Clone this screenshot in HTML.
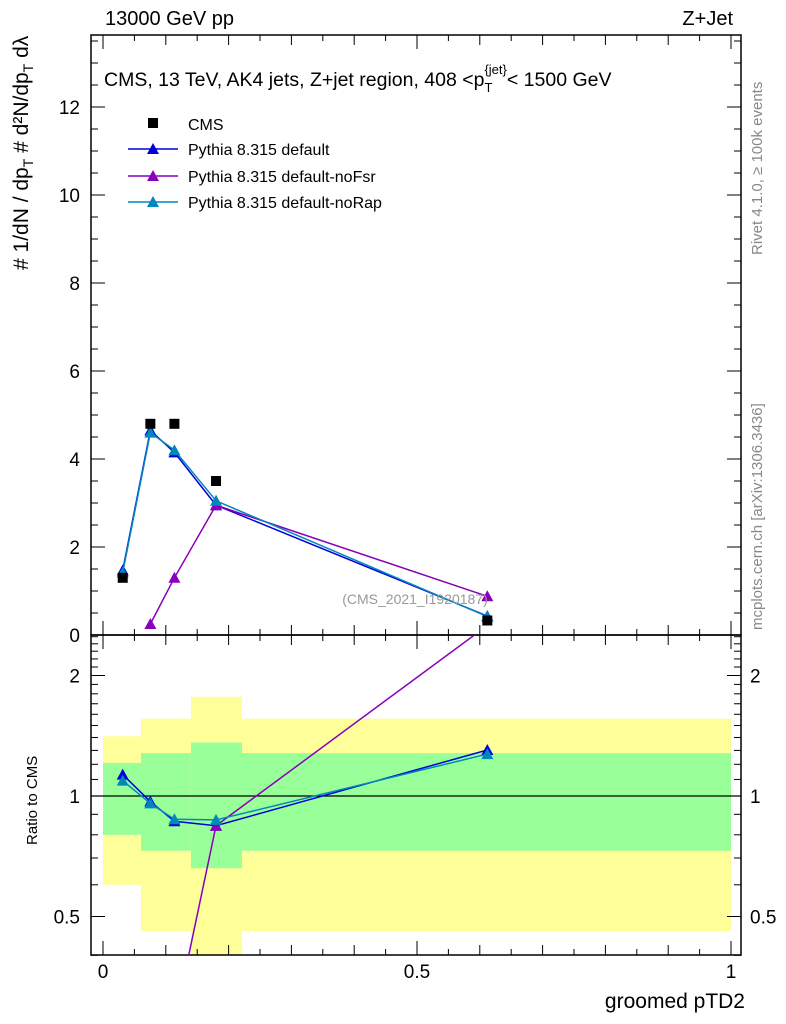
<!DOCTYPE html>
<html><head><meta charset="utf-8"><style>
html,body{margin:0;padding:0;background:#fff;width:786px;height:1024px;overflow:hidden;position:relative;}
svg{font-family:"Liberation Sans",sans-serif;display:block;}
</style></head><body>
<svg id="c" width="786" height="1024" viewBox="0 0 786 1024" xmlns="http://www.w3.org/2000/svg" style="position:absolute;left:0;top:0"></svg>
<script>
const xs=[0.0314,0.0754,0.1137,0.18,0.612];
const binEdges=[0,0.0605,0.14,0.2213,1.0];
const cms=[1.3,4.8,4.8,3.5,0.33];
const pyDefault=[1.47,4.65,4.15,2.95,0.43];
const pyNoFsr=[0,0.25,1.3,2.95,0.88];
const pyNoRap=[1.42,4.6,4.2,3.05,0.42];
const greenHi=[1.21,1.28,1.36,1.28];
const greenLo=[0.80,0.73,0.66,0.73];
const yellowHi=[1.41,1.56,1.77,1.56];
const yellowLo=[0.60,0.46,0.30,0.46];
const mainTicks=[0,2,4,6,8,10,12];
const ratioTicks=[0.5,1,2];
const xTicks=[0,0.5,1];

const NS="http://www.w3.org/2000/svg";
const svg=document.getElementById('c');
const L=91,R=741,T=35,MB=635,RB=955;
const X=v=>103+628*v;
const Y=v=>635-44*v;
const YR=v=>796-120.5*Math.log2(v);
function el(t,a,p){const e=document.createElementNS(NS,t);for(const k in a)e.setAttribute(k,a[k]);(p||svg).appendChild(e);return e;}
function txt(s,a,p){const e=el('text',a,p);e.textContent=s;return e;}

const defs=el('defs',{});
const cp1=el('clipPath',{id:'cm'},defs);el('rect',{x:L,y:T,width:R-L,height:MB-T},cp1);
const cp2=el('clipPath',{id:'cr'},defs);el('rect',{x:L,y:MB,width:R-L,height:RB-MB},cp2);

const gb=el('g',{'clip-path':'url(#cr)'});


for(let i=0;i<4;i++){
 const x0=X(binEdges[i]),x1=X(binEdges[i+1]);
 const y=el('rect',{x:x0,y:YR(yellowHi[i]),width:x1-x0,height:YR(yellowLo[i])-YR(yellowHi[i]),fill:'#ffff99'},gb);
 
 
 const g=el('rect',{x:x0,y:YR(greenHi[i]),width:x1-x0,height:YR(greenLo[i])-YR(greenHi[i]),fill:'#99ff99'},gb);
 
 
}
el('line',{x1:L,x2:R,y1:YR(1),y2:YR(1),stroke:'#000','stroke-width':1.3});

el('rect',{x:L,y:T,width:R-L,height:MB-T,fill:'none',stroke:'#000','stroke-width':1.5});
el('rect',{x:L,y:MB,width:R-L,height:RB-MB,fill:'none',stroke:'#000','stroke-width':1.5});

for(let k=0;k<=20;k++){const v=k*0.05,x=X(v);const len=k%10==0?14:(k%2==0?10:6);
 for(const yb of [MB,RB]){el('line',{x1:x,x2:x,y1:yb,y2:yb-len,stroke:'#000'});}
 el('line',{x1:x,x2:x,y1:MB,y2:MB+len,stroke:'#000'});
 el('line',{x1:x,x2:x,y1:T,y2:T+len,stroke:'#000'});}
xTicks.forEach(v=>{const t=txt(String(v),{x:X(v),y:978,'font-size':19,'text-anchor':'middle'});
 
 });
for(let k=0;k<=27;k++){const v=k*0.5,y=Y(v);if(y<T)break;const len=k%4==0?14:7;
 el('line',{x1:L,x2:L+len,y1:y,y2:y,stroke:'#000'});el('line',{x1:R,x2:R-len,y1:y,y2:y,stroke:'#000'});}
mainTicks.forEach(v=>{const t=txt(String(v),{x:80,y:Y(v)+7,'font-size':19,'text-anchor':'end'});
 
 });
for(const v of [0.4,0.5,0.6,0.7,0.8,0.9,1,1.1,1.2,1.3,1.4,1.5,1.6,1.7,1.8,1.9,2,2.1,2.2,2.3,2.4,2.5]){
 const y=YR(v);const len=[0.5,1,2].includes(v)?14:7;
 el('line',{x1:L,x2:L+len,y1:y,y2:y,stroke:'#000'});el('line',{x1:R,x2:R-len,y1:y,y2:y,stroke:'#000'});}
ratioTicks.forEach(v=>{
 const a=txt(String(v),{x:80,y:YR(v)+7,'font-size':19,'text-anchor':'end'});
 
 
 const b=txt(String(v),{x:750,y:YR(v)+7,'font-size':19});
 
 });

const series=[[pyDefault,'#0000dd','pythia-default'],[pyNoFsr,'#8800bb','pythia-nofsr'],[pyNoRap,'#0088bb','pythia-norap']];
function tri(g,x,y,c){el('path',{d:`M${x},${y-6}L${x+6},${y+5}L${x-6},${y+5}Z`,fill:c},g);}
const gm=el('g',{'clip-path':'url(#cm)'});
const gr=el('g',{'clip-path':'url(#cr)'});
series.forEach(([d,c,n])=>{
 const idx=xs.map((v,i)=>i).filter(i=>d[i]>0);
 const p=el('polyline',{points:idx.map(i=>X(xs[i])+','+Y(d[i])).join(' '),fill:'none',stroke:c,'stroke-width':1.5},gm);
 
 
 idx.forEach(i=>tri(gm,X(xs[i]),Y(d[i]),c));
 const r=el('polyline',{points:idx.map(i=>X(xs[i])+','+YR(d[i]/cms[i])).join(' '),fill:'none',stroke:c,'stroke-width':1.5},gr);
 
 
 idx.forEach(i=>tri(gr,X(xs[i]),YR(d[i]/cms[i]),c));
});
xs.forEach((v,i)=>{const s=el('rect',{x:X(v)-5,y:Y(cms[i])-5,width:10,height:10,fill:'#000'},gm);
 
 });
</script>
<svg width="786" height="1024" style="position:absolute;left:0;top:0" xmlns="http://www.w3.org/2000/svg">
<g font-family="Liberation Sans, sans-serif">
<text x="105" y="25" font-size="20">13000 GeV pp</text>
<text x="733" y="25" font-size="20" text-anchor="end">Z+Jet</text>
<text x="104" y="86" font-size="19.5">CMS, 13 TeV, AK4 jets, Z+jet region, 408 &lt;p<tspan font-size="13" dy="6">T</tspan><tspan font-size="13" dy="-18" dx="-8">{jet}</tspan><tspan dy="12">&lt; 1500 GeV</tspan></text>
<rect x="148" y="118" width="10" height="10" fill="#000"/>
<text x="188" y="130" font-size="16">CMS</text>
<line x1="128" x2="178" y1="149" y2="149" stroke="#0000dd" stroke-width="1.5"/><path d="M153,143L159,154L147,154Z" fill="#0000dd"/>
<text x="188" y="155" font-size="16">Pythia 8.315 default</text>
<line x1="128" x2="178" y1="176" y2="176" stroke="#8800bb" stroke-width="1.5"/><path d="M153,170L159,181L147,181Z" fill="#8800bb"/>
<text x="188" y="182" font-size="16">Pythia 8.315 default-noFsr</text>
<line x1="128" x2="178" y1="202" y2="202" stroke="#0088bb" stroke-width="1.5"/><path d="M153,196L159,207L147,207Z" fill="#0088bb"/>
<text x="188" y="208" font-size="16">Pythia 8.315 default-noRap</text>
<text x="415" y="604" font-size="14" fill="#999" text-anchor="middle">(CMS_2021_I1920187)</text>
<text transform="translate(762,255) rotate(-90)" font-size="15" fill="#888">Rivet 4.1.0, ≥ 100k events</text>
<text transform="translate(762,630) rotate(-90)" font-size="15" fill="#888">mcplots.cern.ch [arXiv:1306.3436]</text>
<text transform="translate(28,270) rotate(-90)" font-size="21"># 1/dN / dp<tspan font-size="14" dy="5">T</tspan><tspan dy="-5"> # d²N/dp</tspan><tspan font-size="14" dy="5">T</tspan><tspan dy="-5"> dλ</tspan></text>
<text transform="translate(37,845) rotate(-90)" font-size="15">Ratio to CMS</text>
<text x="745" y="1008" font-size="21" text-anchor="end">groomed pTD2</text>
</g></svg>
</body></html>
